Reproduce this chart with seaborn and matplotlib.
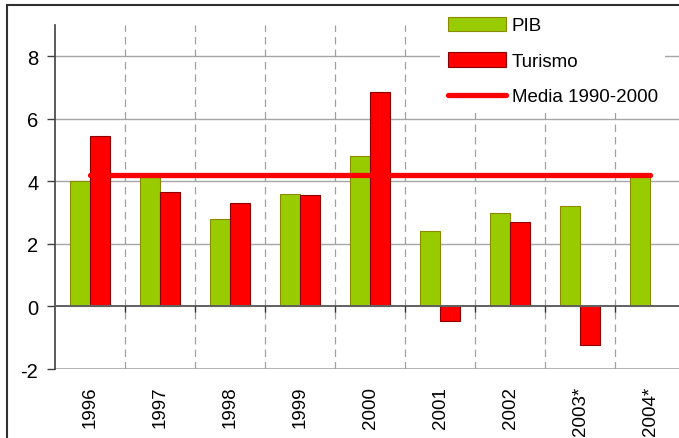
import matplotlib
matplotlib.use('Agg')

import matplotlib.pyplot as plt
import numpy as np
import pandas as pd
import seaborn as sns
from matplotlib.lines import Line2D
from matplotlib.patches import Patch, Rectangle


# ── Data ─────────────────────────────────────────────────────────────────────

YEARS   = ['1996', '1997', '1998', '1999', '2000', '2001', '2002', '2003*', '2004*']
PIB     = [4.0, 4.15, 2.8, 3.6, 4.8, 2.4, 3.0, 3.2, 4.2]
TURISMO = [5.45, 3.67, 3.32, 3.55, 6.85, -0.45, 2.7, -1.24, np.nan]
MEDIA   = 4.2

GREEN = '#99cc00'
RED   = '#ff0000'
FS    = 13.5

sns.set_theme(style='white')
plt.rcParams['font.family'] = ['Liberation Sans', 'DejaVu Sans']
plt.rcParams['axes.unicode_minus'] = False

df = pd.DataFrame({
    'Año':   YEARS * 2,
    'Serie': ['PIB'] * len(YEARS) + ['Turismo'] * len(YEARS),
    'Valor': PIB + TURISMO,
})

# ── Figure ───────────────────────────────────────────────────────────────────

fig = plt.figure(figsize=(6.79, 4.39), dpi=100)
ax = fig.add_axes([55 / 679, 1 - 370 / 439, 630 / 679, 344 / 439])

sns.barplot(data=df, x='Año', y='Valor', hue='Serie', hue_order=['PIB', 'Turismo'],
            palette=[GREEN, RED], order=YEARS, width=0.57, errorbar=None,
            saturation=1, ax=ax, legend=False, zorder=3)
for bar, ec in zip(ax.patches, ['#8a8a00'] * len(YEARS) + ['#8b0000'] * len(YEARS)):
    bar.set_edgecolor(ec)
    bar.set_linewidth(0.8)

x = np.arange(len(YEARS))
ax.plot(x, [MEDIA] * len(YEARS), color=RED, lw=3.8, solid_capstyle='round', zorder=5)

ax.set_xlim(-0.5, len(YEARS) - 0.5)
ax.set_ylim(-2, 9)
ax.set_yticks([-2, 0, 2, 4, 6, 8])
ax.set_xlabel('')
ax.set_ylabel('')

# grid
for yv in [2, 4, 6, 8]:
    ax.axhline(yv, color='#a6a6a6', lw=1, zorder=1)
ax.axhline(-2, color='#a6a6a6', lw=1.2, zorder=1)
bounds = np.arange(len(YEARS) - 1) + 0.5
ax.vlines(bounds, -2, 9, color='#a0a0a0', lw=0.9, linestyles=(0, (6, 4)), zorder=1)
ax.axhline(0, color='#606060', lw=1.4, zorder=4)
ax.vlines(bounds, -0.17, 0, color='#303030', lw=1, zorder=4)

for s in ['top', 'right', 'bottom']:
    ax.spines[s].set_visible(False)
ax.spines['left'].set_color('#404040')
ax.spines['left'].set_linewidth(1.2)

ax.tick_params(axis='y', length=6, width=1, color='#404040', direction='out',
               labelsize=FS + 1, labelcolor='black', pad=6, left=True)
ax.tick_params(axis='x', length=0, labelsize=FS, labelcolor='black', pad=12)
plt.setp(ax.get_xticklabels(), rotation=90, va='top', ha='center')

# legend
handles = [
    Patch(facecolor=GREEN, edgecolor='#8a8a00', lw=0.8),
    Patch(facecolor=RED, edgecolor='#8b0000', lw=0.8),
    Line2D([], [], color=RED, lw=3.8, solid_capstyle='round'),
]
leg = fig.legend(handles, ['PIB', 'Turismo', 'Media 1990-2000'],
                 loc='upper left', bbox_to_anchor=(431 / 679, 0.998),
                 fontsize=FS, frameon=True, handlelength=3.1, handleheight=0.8,
                 handletextpad=0.3, labelspacing=0.95, borderpad=0.4, fancybox=False)
leg.get_frame().set_facecolor('white')
leg.get_frame().set_edgecolor('none')
leg.get_frame().set_alpha(1)
for t in leg.get_texts():
    t.set_color('black')
leg.set_zorder(10)

# chart border
fig.add_artist(Rectangle((7 / 679, -0.1), 1.2, 1.1 - 6 / 439, transform=fig.transFigure,
                         fill=False, edgecolor='#303030', lw=1.5, zorder=20))

fig.savefig('out.png', dpi=100)
